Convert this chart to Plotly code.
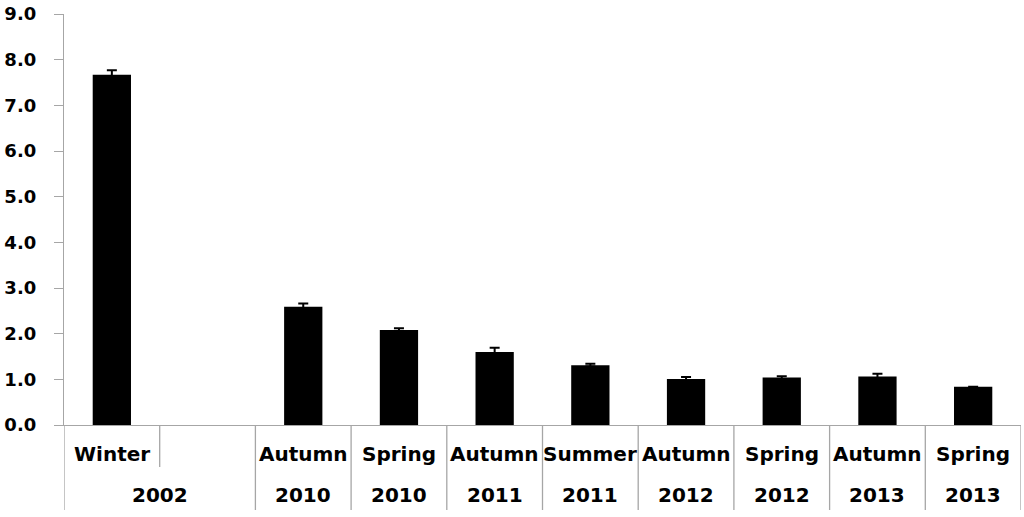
import plotly.graph_objects as go

# ---- data ----
seasons = ["Winter", "", "Autumn", "Spring", "Autumn", "Summer", "Autumn", "Spring", "Autumn", "Spring"]
years = ["2002", "2002", "2010", "2010", "2011", "2011", "2012", "2012", "2013", "2013"]
values = [7.67, None, 2.59, 2.08, 1.60, 1.31, 1.01, 1.04, 1.06, 0.84]
errors = [0.10, 0.0, 0.07, 0.04, 0.09, 0.03, 0.04, 0.03, 0.06, 0.0]
y_ticks = [0, 1, 2, 3, 4, 5, 6, 7, 8, 9]
y_ticklabels = [f"{v:.1f}" for v in y_ticks]

categories = [f"{s} {y}" for s, y in zip(seasons, years)]

W, H = 1024, 517
ml, mr, mt, mb = 64, 3, 14, 92
plot_h = H - mt - mb

FONT = "DejaVu Sans"
GRID = "#a6a6a6"

fig = go.Figure()
fig.add_trace(go.Bar(
    x=categories, y=values,
    marker=dict(color="black", line=dict(width=0)),
    width=0.4,
    error_y=dict(type="data", array=errors, color="black", thickness=2, width=5, visible=True),
    showlegend=False,
))

def py(px):
    return -px / plot_h

shapes = []
annotations = []
n = len(categories)
for i in range(n + 1):
    x = i - 0.5
    if 0 < i < n and years[i] == years[i - 1] and years[i] == "2002":
        y1 = py(42)
    else:
        y1 = py(85)
    shapes.append(dict(type="line", xref="x", yref="paper", x0=x, x1=x, y0=0, y1=y1,
                       line=dict(color=GRID, width=1.3)))

for i, s in enumerate(seasons):
    if s:
        annotations.append(dict(x=i, y=py(29), xref="x", yref="paper", text=s, showarrow=False,
                                yanchor="middle", xanchor="center",
                                font=dict(family=FONT, size=20, color="black", weight="bold")))
i = 0
while i < n:
    j = i
    if years[i] == "2002":
        while j + 1 < n and years[j + 1] == years[i]:
            j += 1
    annotations.append(dict(x=(i + j) / 2, y=py(70), xref="x", yref="paper", text=years[i],
                            showarrow=False, yanchor="middle", xanchor="center",
                            font=dict(family=FONT, size=20, color="black", weight="bold")))
    i = j + 1

fig.update_layout(
    width=W, height=H,
    margin=dict(l=ml, r=mr, t=mt, b=mb, pad=0, autoexpand=False),
    plot_bgcolor="white", paper_bgcolor="white",
    shapes=shapes, annotations=annotations,
    xaxis=dict(type="category", categoryorder="array", categoryarray=categories,
               range=[-0.5, n - 0.5], showticklabels=False, ticks="",
               showline=True, linecolor=GRID, linewidth=1.3, showgrid=False, zeroline=False),
    yaxis=dict(range=[0, 9], tickvals=y_ticks, ticktext=y_ticklabels,
               ticks="outside", ticklen=9, tickcolor=GRID, tickwidth=1.3,
               showline=True, linecolor=GRID, linewidth=1.3, showgrid=False, zeroline=False,
               ticklabelstandoff=14, automargin=False,
               tickfont=dict(family=FONT, size=18, color="black", weight="bold")),
)

fig.write_html("out.html", config={"displayModeBar": False},
               post_script="document.body.style.margin='0px';document.body.style.overflow='hidden';")
